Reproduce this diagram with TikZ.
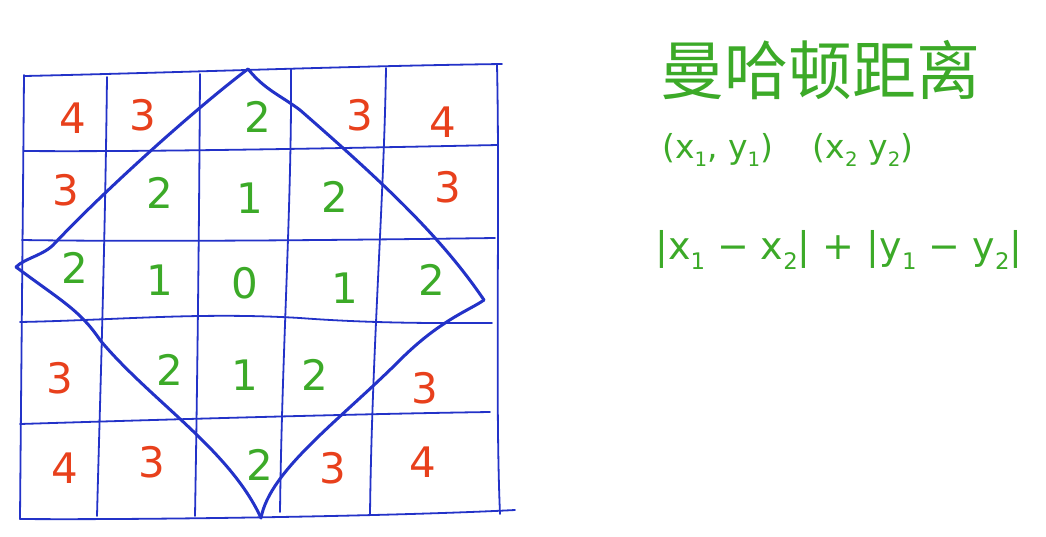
\documentclass[tikz,border=0pt]{standalone}
\usepackage{fontspec}
\setmainfont{DejaVu Sans}
\newfontfamily\cjk{Noto Sans CJK SC}
\definecolor{penblue}{RGB}{35,50,200}
\definecolor{penred}{RGB}{232,64,28}
\definecolor{pengreen}{RGB}{60,170,40}
\newcommand{\sub}[1]{\raisebox{-0.25em}{\scalebox{0.6}{#1}}}
\begin{document}
\begin{tikzpicture}[x=1pt,y=-1pt,
  gridline/.style={penblue,line width=1.8pt,line cap=round,line join=round},
  diam/.style={penblue,line width=3pt,line cap=round,line join=round},
  rnum/.style={text=penred,font=\fontsize{42}{42}\selectfont,inner sep=0pt},
  gnum/.style={text=pengreen,font=\fontsize{42}{42}\selectfont,inner sep=0pt},
  note/.style={text=pengreen,inner sep=0pt,anchor=west}]
\useasboundingbox[fill=white] (0,0) rectangle (1046,536);
% horizontal lines
\draw[gridline] (25,76) .. controls (200,72) and (350,66) .. (502,64);
\draw[gridline] (24,151) .. controls (150,152) and (350,148) .. (498,145);
\draw[gridline] (22,240) .. controls (150,242) and (350,240) .. (495,238);
\draw[gridline] (20,322) .. controls (120,320) and (200,312) .. (300,318) .. controls (380,324) and (450,323) .. (492,323);
\draw[gridline] (20,424) .. controls (150,420) and (350,414) .. (490,412);
\draw[gridline] (20,519) .. controls (150,520) and (400,516) .. (515,510);
% vertical lines
\draw[gridline] (24,75) .. controls (23,200) and (21,400) .. (20,519);
\draw[gridline] (107,77) .. controls (105,250) and (100,400) .. (97,516);
\draw[gridline] (200,74) .. controls (199,250) and (197,400) .. (195,516);
\draw[gridline] (291,69) .. controls (292,200) and (282,350) .. (280,512);
\draw[gridline] (386,68) .. controls (384,200) and (372,350) .. (370,514);
\draw[gridline] (497,65) .. controls (500,200) and (495,400) .. (500,514);
% diamond
\coordinate (T) at (248,69);
\coordinate (L) at (16,267);
\coordinate (R) at (484,300);
\coordinate (B) at (261,518);
\draw[diam] (T) .. controls (200,105) and (110,185) .. (55,243) .. controls (45,255) and (25,258) .. (L);
\draw[diam] (T) .. controls (265,90) and (280,95) .. (300,110) .. controls (380,180) and (440,235) .. (R);
\draw[diam] (R) .. controls (470,310) and (440,320) .. (400,360) .. controls (340,420) and (270,470) .. (B);
\draw[diam] (L) .. controls (60,300) and (80,310) .. (100,340) .. controls (150,400) and (230,450) .. (B);
% numbers
\node[rnum] (a11) at (73,118) {4};
\node[rnum] (a12) at (143,115) {3};
\node[gnum] (a13) at (258,117) {2};
\node[rnum] (a14) at (360,115) {3};
\node[rnum] (a15) at (443,122) {4};
\node[rnum] (a21) at (66,190) {3};
\node[gnum] (a22) at (160,193) {2};
\node[gnum] (a23) at (250,198) {1};
\node[gnum] (a24) at (335,197) {2};
\node[rnum] (a25) at (448,187) {3};
\node[gnum] (a31) at (75,268) {2};
\node[gnum] (a32) at (160,280) {1};
\node[gnum] (a33) at (245,283) {0};
\node[gnum] (a34) at (345,288) {1};
\node[gnum] (a35) at (432,280) {2};
\node[rnum] (a41) at (60,378) {3};
\node[gnum] (a42) at (170,370) {2};
\node[gnum] (a43) at (245,375) {1};
\node[gnum] (a44) at (315,375) {2};
\node[rnum] (a45) at (425,388) {3};
\node[rnum] (a51) at (65,468) {4};
\node[rnum] (a52) at (152,462) {3};
\node[gnum] (a53) at (260,465) {2};
\node[rnum] (a54) at (333,468) {3};
\node[rnum] (a55) at (423,462) {4};
% notes
\node[note,font=\cjk\fontsize{64}{64}\selectfont] (title) at (660,70) {曼哈顿距离};
\node[note,font=\fontsize{33}{33}\selectfont] (pts) at (662,150) {(x\sub{1}, y\sub{1})\hspace{1.2em}(x\sub{2} y\sub{2})};
\node[note,font=\fontsize{38}{38}\selectfont] (form) at (655,250) {|x\sub{1} − x\sub{2}| + |y\sub{1} − y\sub{2}|};
\end{tikzpicture}
\end{document}
